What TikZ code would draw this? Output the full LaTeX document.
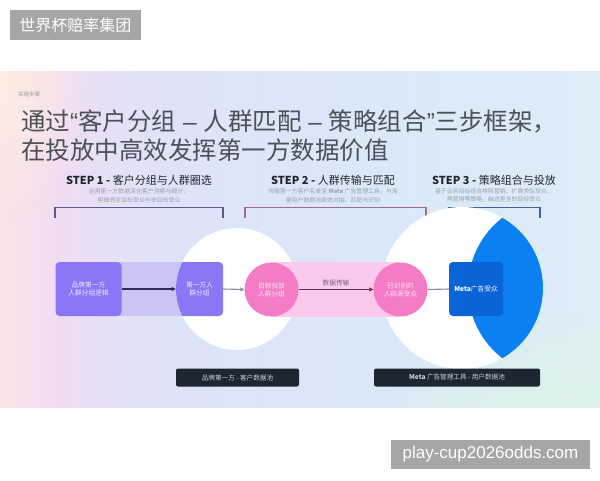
\documentclass[tikz,border=0pt]{standalone}
\usepackage{fontspec}
\setmainfont{Noto Sans CJK SC}
\newfontfamily\wmfont{Liberation Sans}
\usetikzlibrary{arrows.meta,fadings}
\definecolor{pk1}{HTML}{FAE3E6}
\definecolor{pk2}{HTML}{EFDDF2}
\definecolor{lb1}{HTML}{DFE3F8}
\definecolor{lb2}{HTML}{DAE8F8}
\definecolor{lb3}{HTML}{DDEDF6}
\definecolor{bggreen}{HTML}{DDF4E6}
\definecolor{bgpeach}{HTML}{FDEDE2}
\definecolor{wmgray}{HTML}{A6A6A6}
\definecolor{titlec}{HTML}{4A5159}
\definecolor{headc}{HTML}{1F2630}
\definecolor{subc}{HTML}{9CA2AD}
\definecolor{kwc}{HTML}{9AA0A8}
\definecolor{purp}{HTML}{8B77F5}
\definecolor{purptext}{HTML}{ECE8FF}
\definecolor{lavband}{HTML}{CCC4F6}
\definecolor{pinkc}{HTML}{F47CC6}
\definecolor{pinktext}{HTML}{FDE3F3}
\definecolor{pinkband}{HTML}{FBC9EB}
\definecolor{lensblue}{HTML}{0A80F2}
\definecolor{metablue}{HTML}{0A64D8}
\definecolor{barc}{HTML}{1C2731}
\definecolor{bartext}{HTML}{CCD2D8}
\definecolor{arrdark}{HTML}{2E2B55}
\definecolor{arrgray}{HTML}{8E8C9E}
\definecolor{arrplum}{HTML}{5A3457}
\definecolor{labc}{HTML}{6B6680}
\definecolor{brk1}{HTML}{5C5890}
\definecolor{brk2}{HTML}{A36C8E}
\definecolor{brk3}{HTML}{3E62A6}
\pgfdeclarehorizontalshading{panelbg}{100bp}{color(0bp)=(pk1); color(25bp)=(pk1); color(30bp)=(pk2); color(38bp)=(lb1); color(55bp)=(lb2); color(75bp)=(lb3); color(100bp)=(lb3)}
\tikzfading[name=blobfade, inner color=transparent!0, outer color=transparent!100]
\newcommand{\tq}[1]{{\wmfont #1}}
\begin{document}
\begin{tikzpicture}[x=1pt,y=-1pt,
  wm/.style={fill=wmgray, text=white, inner sep=0pt},
  stephead/.style={font=\fontsize{11}{13}\selectfont, text=headc, inner sep=0pt},
  stepsub/.style={font=\fontsize{5.9}{8.5}\selectfont, text=subc, align=center, inner sep=0pt},
  bracket/.style={line width=1.2pt},
  titletext/.style={anchor=base west, inner sep=0pt, text=titlec, font=\fontsize{24.5}{29}\selectfont},
  pbox/.style={rounded corners=4pt, fill=purp, text=purptext, minimum width=66pt, minimum height=54pt, inner sep=0pt, align=center, font=\fontsize{6.7}{8}\selectfont},
  boxtext/.style={minimum width=47pt, minimum height=54pt, inner sep=0pt, align=center, text=purptext, font=\fontsize{6.7}{8}\selectfont},
  pcirc/.style={circle, fill=pinkc, minimum size=54pt, inner sep=0pt, align=center, text=pinktext, font=\fontsize{6.7}{8}\selectfont},
  metabox/.style={rounded corners=4pt, fill=metablue, text=white, minimum width=54pt, minimum height=54pt, inner sep=0pt, font=\fontsize{6.7}{8}\selectfont},
  darkbar/.style={rounded corners=2pt, fill=barc, text=bartext, minimum height=18pt, inner sep=0pt, font=\fontsize{6.6}{8}\selectfont},
  conn/.style={line width=1.1pt, -{Triangle[length=4pt,width=4pt]}},
  plainconn/.style={line width=1.1pt}
]
\useasboundingbox (0,0) rectangle (600,480);
\fill[white] (0,0) rectangle (600,480);
% background panel
\shade[shading=panelbg] (0,71) rectangle (600,407);
\begin{scope}
  \clip (0,71) rectangle (600,407);
  \fill[bggreen, path fading=blobfade] (560,430) ellipse [x radius=200pt, y radius=120pt];
  \fill[bgpeach, path fading=blobfade] (0,80) ellipse [x radius=90pt, y radius=140pt];
\end{scope}
% watermarks
\node[wm, minimum width=131pt, minimum height=30pt, font=\fontsize{16}{18}\selectfont] (wmtop) at (75.5,25) {世界杯赔率集团};
\node[wm, minimum width=199pt, minimum height=29pt, font=\wmfont\fontsize{17}{19}\selectfont] (wmbot) at (490.5,454.5) {play-cup2026odds.com};
% heading texts
\node[anchor=west, inner sep=0pt, text=kwc, font=\fontsize{5.5}{7}\selectfont] (kw) at (18,94) {关键步骤};
\node[titletext] (title1) at (21,130) {通过\tq{“}客户分组\tq{ – }人群匹配\tq{ – }策略组合\tq{”}三步框架，};
\node[titletext] (title2) at (21,159) {在投放中高效发挥第一方数据价值};
% steps
\node[stephead] (s1) at (139,180) {\textbf{STEP 1 -} 客户分组与人群圈选};
\node[stepsub] (s1sub) at (139,195.5) {运用第一方数据深化客户洞察与细分，\\明确界定目标受众与非目标受众};
\node[stephead] (s2) at (333,180) {\textbf{STEP 2 -} 人群传输与匹配};
\node[stepsub] (s2sub) at (333,195.5) {传输第一方客户名单至 \textbf{Meta} 广告管理工具，与海\\量用户数据池高效对接、匹配与识别};
\node[stephead] (s3) at (494,180) {\textbf{STEP 3 -} 策略组合与投放};
\node[stepsub] (s3sub) at (494,195.5) {基于业务目标组合排除营销、扩展类似受众、\\再营销等策略，触达更多的目标受众};
% brackets
\draw[bracket, brk1] (55,218) -- (55,207.5) -- (223,207.5) -- (223,218);
\draw[bracket, brk2] (245,218) -- (245,207.5) -- (426,207.5) -- (426,218);
\draw[bracket, brk3] (449,218) -- (449,207.5) -- (540,207.5) -- (540,218);
% bands and circles
\fill[lavband] (110,262) rectangle (200,316);
\fill[white] (237,289) circle [radius=61pt];
\fill[white] (462,288) circle [radius=81pt];
\fill[pinkband] (271,262) rectangle (400,317);
\begin{scope}
  \clip (237,289) circle [radius=61pt];
  \fill[purp, rounded corners=4pt] (150,262) rectangle (223,316);
\end{scope}
\begin{scope}
  \clip (557,288) circle [radius=89pt];
  \fill[lensblue] (462,288) circle [radius=81pt];
\end{scope}
% nodes
\node[pbox] (b1) at (88.5,289) {品牌第一方\\人群分组逻辑};
\node[boxtext] (b2) at (199.5,289) {第一方人\\群分组};
\node[pcirc] (p1) at (271.5,289.5) {目标投放\\人群分组};
\node[pcirc] (p2) at (400.5,289.5) {已识别的\\人群源受众};
\node[metabox] (meta) at (476,289) {\textbf{Meta}广告受众};
% connectors
\draw[conn, arrdark] (b1.east) -- (b2.west);
\draw[conn, arrgray] (b2.east) -- (p1.west);
\draw[conn, arrplum] (p1.east) -- node[above=3pt, inner sep=0pt, text=labc, font=\fontsize{6.7}{8}\selectfont] (lab) {数据传输} (p2.west);
\draw[plainconn, arrgray] (p2.east) -- (meta.west);
% bottom bars
\node[darkbar, minimum width=123pt] (bar1) at (237.5,377.5) {品牌第一方 - 客户数据池};
\node[darkbar, minimum width=166pt] (bar2) at (457,377.5) {\textbf{Meta} 广告管理工具 - 用户数据池};
\end{tikzpicture}
\end{document}
